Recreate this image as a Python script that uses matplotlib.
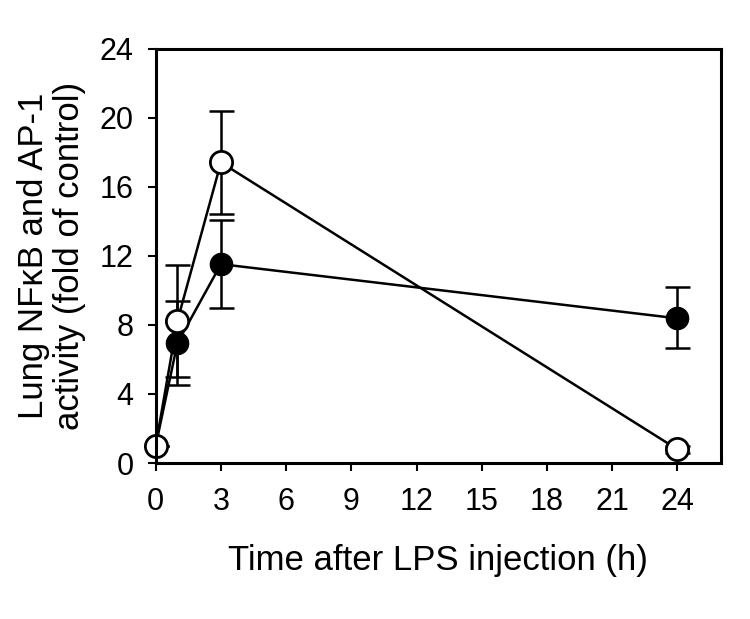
import matplotlib
matplotlib.use("Agg")
import matplotlib.pyplot as plt

plt.rcParams['font.family'] = ['Liberation Sans', 'DejaVu Sans']

time_h = [0, 1, 3, 24]
filled_vals = [1.0, 6.95, 11.52, 8.38]
filled_err_lo = [0.0, 2.41, 2.54, 1.73]
filled_err_hi = [0.0, 2.43, 2.54, 1.80]
open_vals = [1.0, 8.24, 17.41, 0.79]
open_err_lo = [1.0, 3.26, 3.01, 0.22]
open_err_hi = [0.0, 3.23, 3.01, 0.22]
xticks = [0, 3, 6, 9, 12, 15, 18, 21, 24]
yticks = [0, 4, 8, 12, 16, 20, 24]

fig = plt.figure(figsize=(7.5, 6.19), dpi=100)
ax = fig.add_axes([0.2076, 0.252, 0.7537, 0.6693])

lw = 1.8
ax.errorbar(time_h, filled_vals, yerr=[filled_err_lo, filled_err_hi], fmt='none',
            ecolor='black', elinewidth=lw, capsize=9, capthick=lw, zorder=2)
ax.errorbar(time_h, open_vals, yerr=[open_err_lo, open_err_hi], fmt='none',
            ecolor='black', elinewidth=lw, capsize=9, capthick=lw, zorder=2)
ax.plot(time_h, filled_vals, '-o', color='black', mfc='black', mec='black', ms=16,
        lw=lw, clip_on=False, zorder=3)
ax.plot(time_h, open_vals, '-o', color='black', mfc='white', mec='black', ms=16, mew=2.0,
        lw=lw, clip_on=False, zorder=4)

ax.set_xlim(0, 26)
ax.set_ylim(0, 24)
ax.set_xticks(xticks)
ax.set_yticks(yticks)
ax.tick_params(axis='both', direction='out', length=6, width=1.5, labelsize=22,
               top=False, right=False)
ax.tick_params(axis='x', pad=11)
ax.tick_params(axis='y', pad=10)
for s in ax.spines.values():
    s.set_linewidth(2.2)
    s.set_zorder(5)

ax.set_xlabel('Time after LPS injection (h)', fontsize=25, labelpad=20)
ax.set_ylabel('Lung NF\u03baB and AP-1\nactivity (fold of control)', fontsize=25,
              labelpad=10, linespacing=1.1)

fig.savefig('out.png', dpi=100, facecolor='white')
